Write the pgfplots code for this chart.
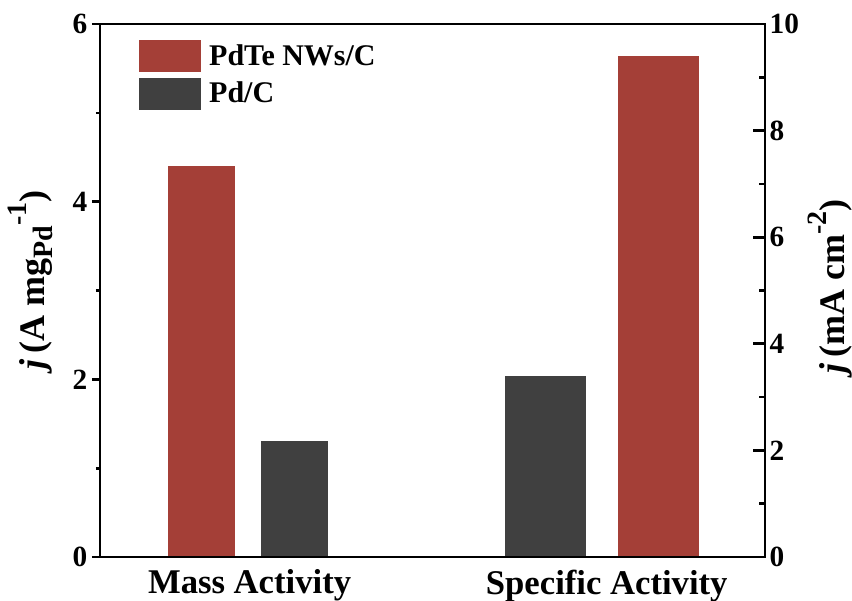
\documentclass[border=0pt]{standalone}
\usepackage{fontspec}
\setmainfont{Liberation Serif}
\usepackage{pgfplots}
\pgfplotsset{compat=1.18}
\definecolor{pdte}{HTML}{A43F37}
\definecolor{pdc}{HTML}{404040}
% larger sub-/superscripts for the axis titles
\newcommand{\lsub}[1]{\raisebox{-0.22em}{\fontsize{21}{24}\selectfont #1}}
\newcommand{\lsup}[1]{\raisebox{0.5em}{\fontsize{21}{24}\selectfont #1}}

\begin{document}
\begin{tikzpicture}
\pgfplotsset{
  common/.style={
    width=498.75pt, height=399.75pt, scale only axis,
    at={(0,0)}, anchor=south west,
    xmin=0, xmax=10, ymin=0,
    axis line style={line width=2.2pt},
    every tick/.style={line width=2pt, black},
    yticklabel style={font=\fontsize{22}{26}\selectfont\bfseries},
    xticklabel style={font=\fontsize{26}{30}\selectfont\bfseries},
    /pgf/number format/assume math mode=true,
    ylabel style={font=\fontsize{27}{32}\selectfont\bfseries},
    minor y tick num=1,
  }
}

% right axis: specific activity (mA cm^-2)
\begin{axis}[common,
  ymax=10, ytick={0,2,...,10},
  axis x line=none, axis y line*=right,
  tick align=inside,
  major tick length=9pt, minor tick length=4.5pt,
  ylabel={\textit{j}\,(mA cm\lsup{-2})},
  ylabel style={at={(axis description cs:1.098,0.508)}, anchor=center},
]
\addplot[ybar, bar width=1.22, bar shift=0pt, fill=pdc, draw=none] coordinates {(6.70,3.40)};
\addplot[ybar, bar width=1.22, bar shift=0pt, fill=pdte, draw=none] coordinates {(8.40,9.40)};
\end{axis}

% left axis: mass activity (A mg_Pd^-1)
\begin{axis}[common,
  axis on top,
  ymax=6, ytick={0,2,4,6},
  ytick pos=left, tick align=outside,
  major tick length=6pt, minor tick length=3pt,
  xtick={2.25,7.62},
  xticklabels={Mass Activity, Specific Activity},
  major x tick style={draw=none},
  ylabel={\textit{j}\,(A mg\lsub{Pd}\lsup{-1})},
  ylabel style={at={(axis description cs:-0.105,0.52)}, anchor=center},
  legend style={at={(0.0586,0.970)}, anchor=north west, draw=none, fill=none,
    inner sep=0pt, row sep=4pt,
    font=\fontsize{22.5}{26}\selectfont\bfseries,
    nodes={inner sep=0pt}},
  legend cell align=left,
  legend image code/.code={\fill[#1] (0pt,-12pt) rectangle (46.5pt,12pt);},
  legend columns=1,
]
\addplot[ybar, bar width=1.01, bar shift=0pt, fill=pdte, draw=none] coordinates {(1.53,4.40)};
\addlegendentry{\hspace{6pt}PdTe NWs/C}
\addplot[ybar, bar width=1.01, bar shift=0pt, fill=pdc, draw=none] coordinates {(2.92,1.31)};
\addlegendentry{\hspace{6pt}Pd/C}
\end{axis}

\pgfresetboundingbox
\useasboundingbox (-75pt,-32.25pt) rectangle (564pt,417.75pt);
\end{tikzpicture}
\end{document}
